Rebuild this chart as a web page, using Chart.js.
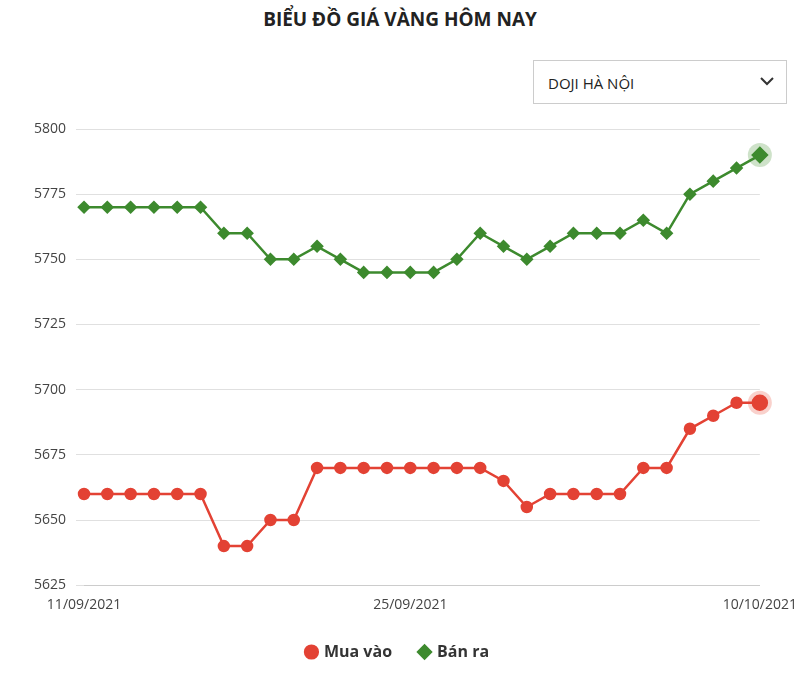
<!DOCTYPE html>
<html><head><meta charset="utf-8">
<script src="https://cdn.jsdelivr.net/npm/chart.js@4/dist/chart.umd.min.js"></script>
<style>
body{margin:0;background:#fff;font-family:"Open Sans",sans-serif;}
#wrap{position:relative;width:800px;height:680px;}
h1{position:absolute;top:6px;left:0;width:800px;text-align:center;margin:0;font-size:19px;font-weight:700;color:#222;}
#sel{position:absolute;left:533px;top:60px;width:254px;height:44px;border:1px solid #ccc;box-sizing:border-box;font-size:15px;color:#222;padding:12px 14px;}
#sel svg{position:absolute;right:12px;top:15px;}
#c{position:absolute;left:0;top:110px;}
</style></head><body>
<div id="wrap">
<h1>BIỂU ĐỒ GIÁ VÀNG HÔM NAY</h1>
<div id="sel">DOJI HÀ NỘI<svg width="14" height="10"><path d="M1 2 L7 8 L13 2" stroke="#333" stroke-width="2" fill="none"/></svg></div>
<canvas id="c" width="800" height="570"></canvas>
</div>
<script>
const labels=["11/09/2021","12/09/2021","13/09/2021","14/09/2021","15/09/2021","16/09/2021","17/09/2021","18/09/2021","19/09/2021","20/09/2021","21/09/2021","22/09/2021","23/09/2021","24/09/2021","25/09/2021","26/09/2021","27/09/2021","28/09/2021","29/09/2021","30/09/2021","01/10/2021","02/10/2021","03/10/2021","04/10/2021","05/10/2021","06/10/2021","07/10/2021","08/10/2021","09/10/2021","10/10/2021"];
const muaVao=[5660,5660,5660,5660,5660,5660,5640,5640,5650,5650,5670,5670,5670,5670,5670,5670,5670,5670,5665,5655,5660,5660,5660,5660,5670,5670,5685,5690,5695,5695];
const banRa=[5770,5770,5770,5770,5770,5770,5760,5760,5750,5750,5755,5750,5745,5745,5745,5745,5750,5760,5755,5750,5755,5760,5760,5760,5765,5760,5775,5780,5785,5790];
const shownTicks=[0,14,29];
const n=labels.length;
const radR=labels.map((_,i)=>i===n-1?7:5);
const radG=labels.map((_,i)=>i===n-1?7:5);
const halo={id:'halo',beforeDatasetsDraw(ch){const ctx=ch.ctx;ch.data.datasets.forEach((d,di)=>{const p=ch.getDatasetMeta(di).data[n-1];ctx.save();ctx.beginPath();ctx.arc(p.x,p.y,12,0,Math.PI*2);ctx.fillStyle=di===0?'rgba(230,70,50,0.25)':'rgba(60,140,40,0.25)';ctx.fill();ctx.restore();});}};
new Chart(document.getElementById('c'),{type:'line',
data:{labels,datasets:[
{label:'Mua vào',data:muaVao,borderColor:'#e34234',backgroundColor:'#e34234',borderWidth:2.5,pointRadius:radR,pointStyle:'circle',tension:0},
{label:'Bán ra',data:banRa,borderColor:'#3d8a2e',backgroundColor:'#3d8a2e',borderWidth:2.5,pointRadius:radG,pointStyle:'rectRot',tension:0}]},
options:{responsive:false,animation:false,
layout:{padding:{left:24,right:28,top:19,bottom:10}},
plugins:{legend:{position:'bottom',labels:{usePointStyle:true,boxWidth:9,boxHeight:9,font:{size:16,weight:'bold',family:'Open Sans'},color:'#333',padding:28}},tooltip:{enabled:false}},
scales:{x:{offset:false,grid:{display:false},border:{color:'#ccc'},ticks:{autoSkip:false,maxRotation:0,font:{size:14,family:'Open Sans'},color:'#444',callback:(v,i)=>shownTicks.includes(i)?labels[i]:''}},
y:{min:5625,max:5800,border:{display:false},grid:{color:'#e0e0e0'},ticks:{stepSize:25,font:{size:14,family:'Open Sans'},color:'#444',padding:10,callback:v=>String(v)}}}},
plugins:[halo]});
</script></body></html>
